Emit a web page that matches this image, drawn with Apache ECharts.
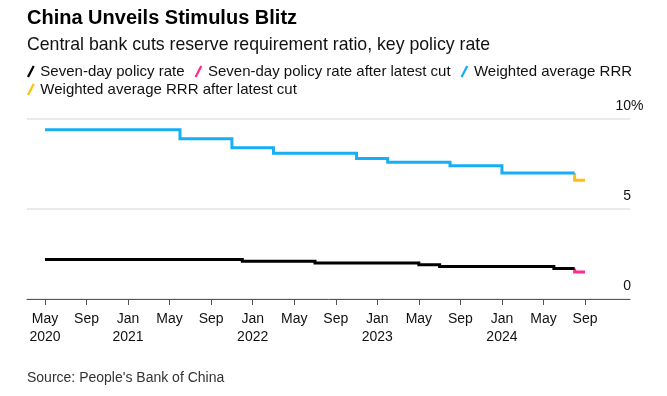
<!DOCTYPE html>
<html>
<head>
<meta charset="utf-8">
<script src="https://cdn.jsdelivr.net/npm/echarts@6/dist/echarts.min.js"></script>
<style>
html,body{margin:0;padding:0;background:#fff;}
#c{width:667px;height:396px;}
</style>
</head>
<body>
<div id="c"></div>
<script>
// x values are months since Jan 2020 (May 2020 = 4)
const rateX = [4, 23, 30, 40, 42, 53, 55];
const rateY = [2.2, 2.1, 2.0, 1.9, 1.8, 1.7, 1.7];
const rateCutX = [55, 56];
const rateCutY = [1.7, 1.5];
const rrrX = [4, 17, 22, 26, 34, 37, 43, 48, 55];
const rrrY = [9.4, 8.9, 8.4, 8.1, 7.8, 7.6, 7.4, 7.0, 7.0];
const rrrCutX = [55, 56];
const rrrCutY = [7.0, 6.6];
const tickMonths = [4, 8, 12, 16, 20, 24, 28, 32, 36, 40, 44, 48, 52, 56];
const tickLabels = ['May\n2020','Sep','Jan\n2021','May','Sep','Jan\n2022','May','Sep','Jan\n2023','May','Sep','Jan\n2024','May','Sep'];
const yTicks = [0, 5, 10];
const seriesNames = ['Seven-day policy rate','Seven-day policy rate after latest cut','Weighted average RRR','Weighted average RRR after latest cut'];
const colors = ['#000000','#ff2a92','#17aef5','#fcc10f'];

// expand points into step vertices; atStart: the change happens at the earlier point's x
const toSteps = (xs, ys, atStart) => {
  const out = [[xs[0], ys[0]]];
  for (let i = 1; i < xs.length; i++) {
    if (ys[i] !== ys[i - 1]) out.push(atStart ? [xs[i - 1], ys[i]] : [xs[i], ys[i - 1]]);
    out.push([xs[i], ys[i]]);
  }
  return out;
};
const FONT = '"Liberation Sans", Arial, sans-serif';
const icon = 'path://M0,10 L5.2,0 L7,0.9 L1.8,10.9 Z';
const legendText = {fontFamily: FONT, fontSize: 15, color: '#111'};

const stepSeries = (i, xs, ys, atStart, z) => ({
  name: seriesNames[i], type: 'lines', coordinateSystem: 'cartesian2d', polyline: true,
  data: [{coords: toSteps(xs, ys, atStart)}],
  lineStyle: {color: colors[i], width: 3, opacity: 1, curveness: 0, join: 'miter', cap: 'butt'},
  itemStyle: {color: colors[i]},
  silent: true, z: z
});

const chart = echarts.init(document.getElementById('c'), null, {renderer: 'canvas'});
const option = {
  animation: false,
  color: colors,
  title: [
    {text: 'China Unveils Stimulus Blitz', left: 22, top: 3,
     textStyle: {fontFamily: FONT, fontSize: 20, fontWeight: 'bold', color: '#000'}},
    {text: 'Central bank cuts reserve requirement ratio, key policy rate', left: 22, top: 31,
     textStyle: {fontFamily: FONT, fontSize: 17.7, fontWeight: 'normal', color: '#111'}},
    {text: "Source: People's Bank of China", left: 22, top: 366,
     textStyle: {fontFamily: FONT, fontSize: 14, fontWeight: 'normal', color: '#333'}}
  ],
  legend: [
    {left: 22, top: 59, itemWidth: 9, itemHeight: 12, itemGap: 10, icon: icon,
     data: seriesNames.slice(0, 3), textStyle: legendText, itemStyle: {borderWidth: 0}},
    {left: 22, top: 77, itemWidth: 9, itemHeight: 12, itemGap: 10, icon: icon,
     data: seriesNames.slice(3), textStyle: legendText, itemStyle: {borderWidth: 0}}
  ],
  grid: {left: 27, right: 37, top: 119, bottom: 97},
  xAxis: {
    type: 'value', min: 2.27, max: 60.33,
    axisLine: {show: true, lineStyle: {color: '#555', width: 1}},
    axisTick: {show: true, length: 6, lineStyle: {color: '#555'}, customValues: tickMonths},
    axisLabel: {
      customValues: tickMonths, margin: 11,
      fontFamily: FONT, fontSize: 14, color: '#111', lineHeight: 18,
      formatter: (v) => { const i = tickMonths.indexOf(Math.round(v)); return i >= 0 ? tickLabels[i] : ''; }
    },
    splitLine: {show: false}
  },
  yAxis: {
    type: 'value', position: 'right', min: 0, max: 10, interval: 5,
    axisLine: {show: false}, axisTick: {show: false},
    splitLine: {show: true, lineStyle: {color: '#e3e3e3', width: 1.5}},
    axisLabel: {
      inside: false, margin: -14.6, align: 'left', verticalAlign: 'bottom', padding: [0, 0, 6, 0],
      fontFamily: FONT, fontSize: 14, color: '#111',
      formatter: (v) => yTicks.indexOf(v) >= 0 ? (v === 10 ? '10%' : '{r|' + v + '}') : '',
      rich: {r: {fontFamily: FONT, fontSize: 14, color: '#111', width: 15.6, align: 'right'}}
    }
  },
  series: [
    stepSeries(0, rateX, rateY, false, 3),
    stepSeries(1, rateCutX, rateCutY, true, 2),
    stepSeries(2, rrrX, rrrY, false, 3),
    stepSeries(3, rrrCutX, rrrCutY, true, 2)
  ]
};
chart.setOption(option);
</script>
</body>
</html>
